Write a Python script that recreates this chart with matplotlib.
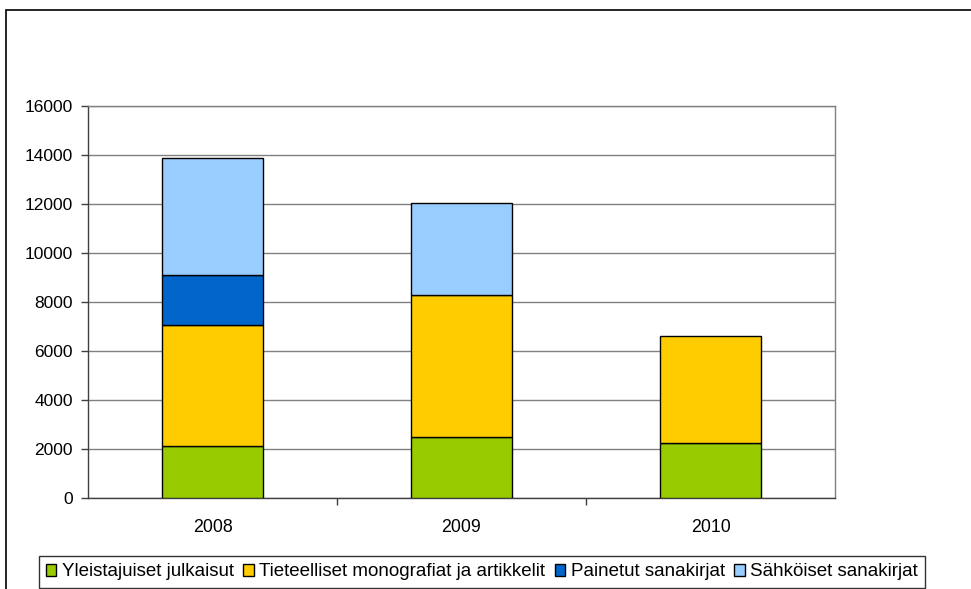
import matplotlib
matplotlib.use("Agg")
import matplotlib.pyplot as plt
import numpy as np
from matplotlib.patches import Patch, Rectangle

plt.rcParams['font.family'] = ['Liberation Sans', 'DejaVu Sans']

years = ['2008', '2009', '2010']
series_names = ['Yleistajuiset julkaisut', 'Tieteelliset monografiat ja artikkelit',
                'Painetut sanakirjat', 'Sähköiset sanakirjat']
yleistajuiset = [2110, 2470, 2230]
tieteelliset = [4930, 5820, 4360]
painetut = [2060, 0, 0]
sahkoiset = [4780, 3750, 0]
colors = ['#99CC00', '#FFCC00', '#0066CC', '#99CCFF']
yticks = [0, 2000, 4000, 6000, 8000, 10000, 12000, 14000, 16000]

W, H = 971, 589
fig = plt.figure(figsize=(W / 100, H / 100), dpi=100)

# outer chart frame (left and top edges visible)
fig.patches.append(Rectangle((6 / W, -0.1), 1.2, 1 - 10 / H + 0.1, transform=fig.transFigure,
                             fill=False, edgecolor='#000000', linewidth=1.2, zorder=0))

ax = fig.add_axes([88 / W, 1 - 497.7 / H, (835 - 88) / W, (497.7 - 106) / H])

x = np.arange(len(years))
bottom = np.zeros(len(years))
for vals, col in zip([yleistajuiset, tieteelliset, painetut, sahkoiset], colors):
    vals = np.array(vals, dtype=float)
    keep = vals > 0
    ax.bar(x[keep], vals[keep], width=0.405, bottom=bottom[keep], color=col,
           edgecolor='black', linewidth=1.0, zorder=3)
    bottom += vals

ax.set_xlim(-0.5, 2.5)
ax.set_ylim(0, 16000)
ax.set_yticks(yticks)
ax.set_yticklabels([str(t) for t in yticks])
ax.yaxis.grid(True, color='#808080', linewidth=1.0, zorder=0)
ax.set_axisbelow(True)

ax.set_xticks(x)
ax.set_xticklabels(years)
ax.set_xticks([0.5, 1.5], minor=True)
ax.tick_params(axis='x', which='major', length=0, pad=15, labelsize=12.8)
ax.tick_params(axis='x', which='minor', length=5, width=1, color='#404040', direction='out')
ax.tick_params(axis='y', length=5, width=1, color='#404040', direction='out', pad=6, labelsize=12.5)

for side in ['left', 'bottom']:
    ax.spines[side].set_color('#404040')
    ax.spines[side].set_linewidth(1.0)
for side in ['top', 'right']:
    ax.spines[side].set_color('#808080')
    ax.spines[side].set_linewidth(1.0)

handles = [Patch(facecolor=c, edgecolor='black', linewidth=1.0) for c in colors]
leg = fig.legend(handles, series_names, loc='center', ncol=4,
                 bbox_to_anchor=(482 / W, 1 - 572 / H), fontsize=13.5,
                 frameon=True, fancybox=False, edgecolor='black',
                 handlelength=0.55, handleheight=0.55, handletextpad=0.3,
                 columnspacing=0.5, borderpad=0.4, borderaxespad=0)
leg.get_frame().set_linewidth(1.0)

fig.savefig('out.png', dpi=100, facecolor='white')
